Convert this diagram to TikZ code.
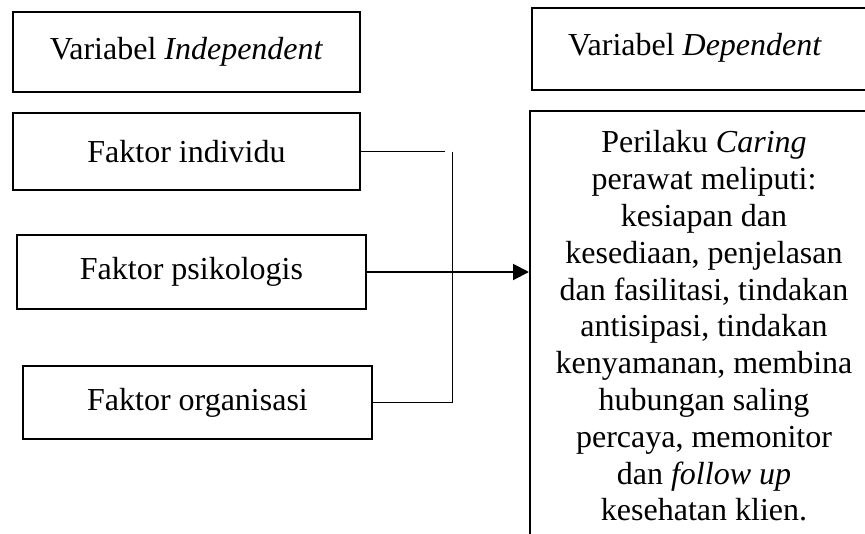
\documentclass[tikz,border=0pt]{standalone}
\usepackage{fontspec}
\setmainfont{Liberation Serif}
\usetikzlibrary{arrows.meta}
\begin{document}
\begin{tikzpicture}[x=1pt,y=-1pt,
  box/.style={draw, line width=2pt, inner sep=0pt, rectangle},
  lbl/.style={inner sep=0pt, font=\fontsize{32}{36.8}\selectfont},
  conn/.style={line width=1pt},
  arr/.style={line width=2pt, -{Triangle[length=16pt,width=16pt]}}]
\useasboundingbox (0,0) rectangle (865,533);
% left column
\node[box, minimum width=347pt, minimum height=80pt] (vi) at (186.5,52) {};
\node[lbl] (vit) at (vi.center) {Variabel \textit{Independent}};
\node[box, minimum width=347pt, minimum height=77pt] (ind) at (186.5,151.5) {};
\node[lbl] (indt) at (ind.center) {Faktor individu};
\node[box, minimum width=349pt, minimum height=74pt] (psi) at (191.5,272) {};
\node[lbl] (psit) at (psi.center) {Faktor psikologis};
\node[box, minimum width=349pt, minimum height=73pt] (org) at (197.5,402.5) {};
\node[lbl] (orgt) at (org.center) {Faktor organisasi};
% right column
\node[box, anchor=north west, minimum width=360pt, minimum height=82pt] (vd) at (531,7) {};
\node[lbl] (vdt) at (695,48) {Variabel \textit{Dependent}};
\node[box, anchor=north west, minimum width=360pt, minimum height=460pt] (pb) at (529,110) {};
\node[lbl, align=center] (pbt) at (704,326) {Perilaku \textit{Caring}\\perawat meliputi:\\kesiapan dan\\kesediaan, penjelasan\\dan fasilitasi, tindakan\\antisipasi, tindakan\\kenyamanan, membina\\hubungan saling\\percaya, memonitor\\dan \textit{follow up}\\kesehatan klien.};
% connectors
\coordinate (bt) at (452,151.5);
\coordinate (bb) at (452,402.5);
\draw[conn] (ind.east) -- ([xshift=-7pt]bt);
\draw[conn] (bt) -- (bb) -- (org.east);
\draw[arr] (psi.east) -- (psi.east -| pb.west);
\end{tikzpicture}
\end{document}
